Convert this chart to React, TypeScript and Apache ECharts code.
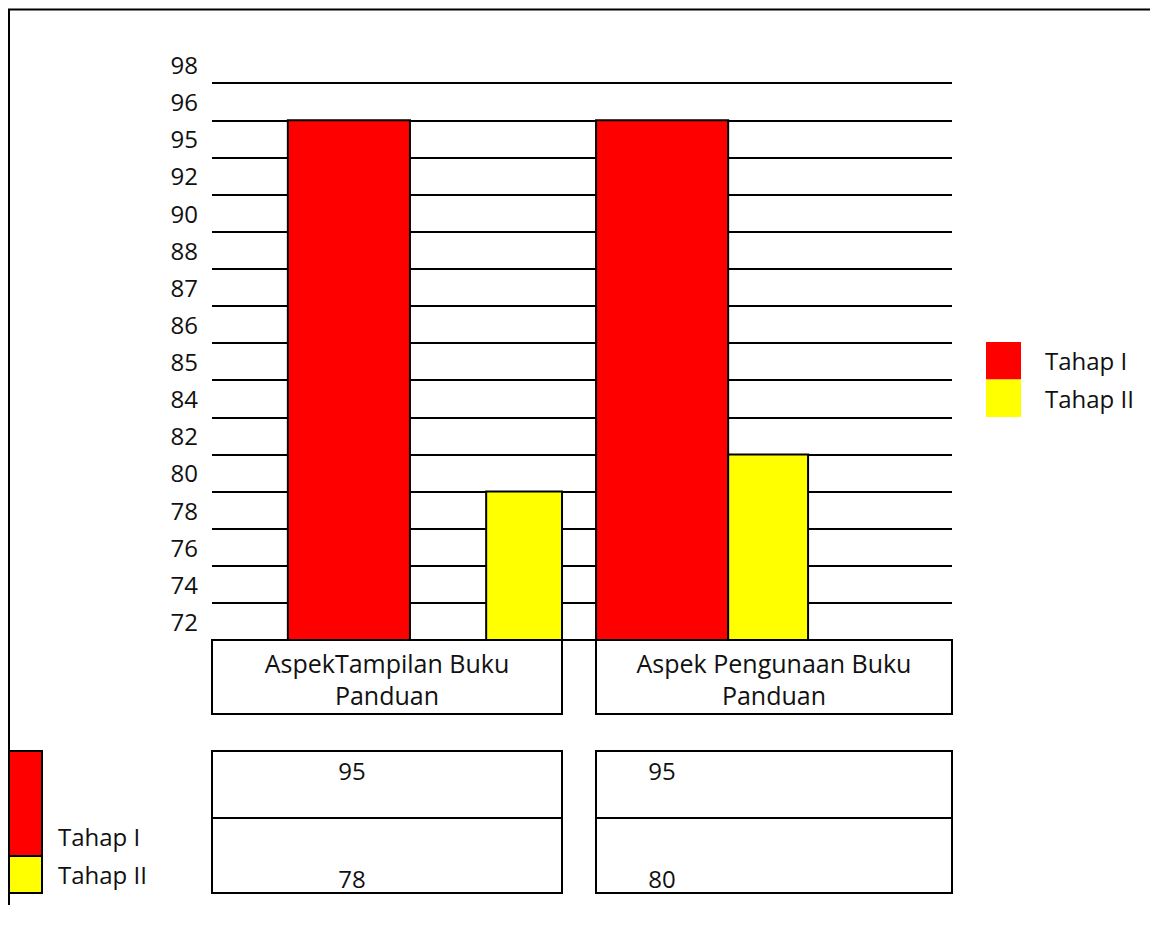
import React, { useEffect, useRef } from "react";
import * as echarts from "echarts";

// ---- data ----
const categories = ["AspekTampilan Buku Panduan", "Aspek Pengunaan Buku Panduan"];
const yTickLabels = ["72", "74", "76", "78", "80", "82", "84", "85", "86", "87", "88", "90", "92", "95", "96", "98"];
const seriesNames = ["Tahap I", "Tahap II"];
const tahap1 = [95, 95];
const tahap2 = [78, 80];
const seriesColors = ["#FF0000", "#FFFF00"];

// ---- layout (fractions of a category band) ----
const BAR_LAYOUT = [
  [ { offset: 0.205, width: 0.33 }, { offset: 0.038, width: 0.357 } ],
  [ { offset: 0.741, width: 0.205 }, { offset: 0.395, width: 0.216 } ],
];
const FONT = "'Open Sans'";
const FS = 24;
const CAT_FS = 25;

const levelOf = (v: number) => yTickLabels.indexOf(String(v)) + 1;

export default function App() {
  const ref = useRef<HTMLDivElement>(null);
  useEffect(() => {
    if (!ref.current) return;
    const chart = echarts.init(ref.current, null, { renderer: "svg" });
    const allSeries = [tahap1, tahap2];

    const renderItem = (params: any, api: any) => {
      const cat = api.value(0);
      const level = api.value(1);
      const base = api.coord([cat, 0]);
      const top = api.coord([cat, level]);
      const band = api.size([1, 0])[0];
      const lay = BAR_LAYOUT[params.seriesIndex][cat];
      const x0 = base[0] - band / 2 + lay.offset * band;
      return {
        type: "rect",
        shape: { x: x0, y: top[1], width: lay.width * band, height: base[1] - top[1] },
        style: { fill: seriesColors[params.seriesIndex], stroke: "#000", lineWidth: 2 },
      };
    };

    // table boxes
    const boxX = [204, 588];
    const boxW = [350, 356];
    const tableTextX = [140, 66];
    const graphics: any[] = [
      {
        type: "polyline",
        shape: { points: [[1, 897], [1, 1.5], [1152, 1.5]] },
        style: { stroke: "#000", lineWidth: 2, fill: "none" },
        silent: true,
      },
    ];
    categories.forEach((c, i) => {
      graphics.push({
        type: "rect",
        shape: { x: boxX[i], y: 632, width: boxW[i], height: 74 },
        style: { fill: "#fff", stroke: "#000", lineWidth: 2 },
        z: 10,
      });
      const lines = c.replace(/ (\S+)$/, "\n$1").split("\n");
      lines.forEach((ln, li) => {
        graphics.push({
          type: "text",
          x: boxX[i] + boxW[i] / 2,
          y: 655 + li * 32,
          style: {
            text: ln,
            font: `${CAT_FS}px ${FONT}`,
            fill: "#111",
            align: "center",
            verticalAlign: "middle",
          },
          z: 11,
        });
      });
      graphics.push({
        type: "rect",
        shape: { x: boxX[i], y: 743, width: boxW[i], height: 142 },
        style: { fill: "#fff", stroke: "#000", lineWidth: 2 },
        z: 10,
      });
      graphics.push({
        type: "line",
        shape: { x1: boxX[i], y1: 810, x2: boxX[i] + boxW[i], y2: 810 },
        style: { stroke: "#000", lineWidth: 2 },
        z: 11,
      });
      allSeries.forEach((s, si) => {
        graphics.push({
          type: "text",
          x: boxX[i] + tableTextX[i],
          y: si === 0 ? 762 : 870,
          style: {
            text: String(s[i]),
            font: `${FS}px ${FONT}`,
            fill: "#111",
            align: "center",
            verticalAlign: "middle",
          },
          z: 11,
        });
      });
    });
    // left legend (table key)
    graphics.push(
      { type: "rect", shape: { x: 1, y: 743, width: 33, height: 105 }, style: { fill: seriesColors[0], stroke: "#000", lineWidth: 2 }, z: 10 },
      { type: "rect", shape: { x: 1, y: 848, width: 33, height: 37 }, style: { fill: seriesColors[1], stroke: "#000", lineWidth: 2 }, z: 10 },
      { type: "text", x: 50, y: 828, style: { text: seriesNames[0], font: `${FS}px ${FONT}`, fill: "#111", verticalAlign: "middle" }, z: 11 },
      { type: "text", x: 50, y: 866, style: { text: seriesNames[1], font: `${FS}px ${FONT}`, fill: "#111", verticalAlign: "middle" }, z: 11 }
    );

    chart.setOption({
      animation: false,
      textStyle: { fontFamily: "Open Sans" },
      grid: { left: 204, top: 38, width: 740, height: 594, containLabel: false },
      xAxis: {
        type: "category",
        data: categories,
        axisLabel: { show: false },
        axisTick: { show: false },
        axisLine: { show: true, lineStyle: { color: "#000", width: 2 } },
        splitLine: { show: false },
      },
      yAxis: [
        {
          type: "value",
          min: 0,
          max: yTickLabels.length,
          interval: 1,
          axisLabel: { show: false },
          axisLine: { show: false },
          axisTick: { show: false },
          splitLine: { show: true, showMinLine: false, showMaxLine: false, lineStyle: { color: "#000", width: 2 } },
        },
        {
          type: "category",
          data: yTickLabels,
          position: "left",
          axisLine: { show: false },
          axisTick: { show: false },
          splitLine: { show: false },
          axisLabel: { fontSize: FS, color: "#111", margin: 14, fontFamily: "Open Sans" },
        },
      ],
      legend: {
        orient: "vertical",
        left: 978,
        top: 334,
        padding: 0,
        itemWidth: 35,
        itemHeight: 37.5,
        itemGap: 0,
        icon: "rect",
        itemStyle: { borderWidth: 0 },
        textStyle: { fontSize: FS, color: "#111", fontFamily: "Open Sans", padding: [0, 0, 0, 19] },
        data: seriesNames,
      },
      series: seriesNames.map((name, si) => ({
        name,
        type: "custom",
        xAxisIndex: 0,
        yAxisIndex: 0,
        itemStyle: { color: seriesColors[si] },
        renderItem,
        encode: { x: 0, y: 1 },
        data: allSeries[si].map((v, i) => [i, levelOf(v), v]),
      })),
      graphic: graphics,
    });
    return () => chart.dispose();
  }, []);
  return <div ref={ref} style={{ width: 1150, height: 917 }} />;
}
